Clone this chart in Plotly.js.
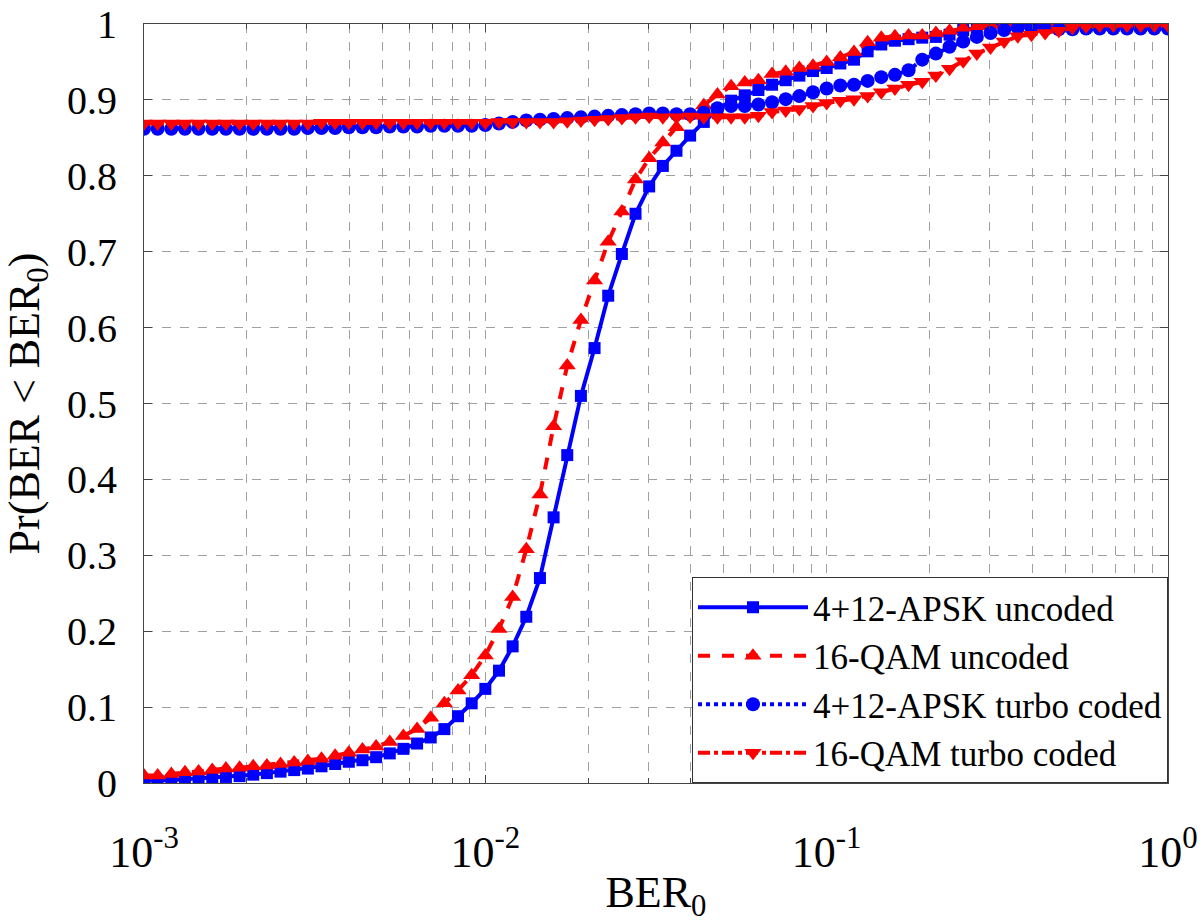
<!DOCTYPE html>
<html>
<head>
<meta charset="utf-8">
<script src="https://cdn.plot.ly/plotly-3.0.1.min.js"></script>
<style>html,body{margin:0;padding:0;background:#fff;}#chart{width:1200px;height:923px;}</style>
</head>
<body>
<div id="chart"></div>
<script>
// log10(BER0) sample grid
const logBER = [-3.00,-2.96,-2.92,-2.88,-2.84,-2.80,-2.76,-2.72,-2.68,-2.64,-2.60,-2.56,-2.52,-2.48,-2.44,-2.40,-2.36,-2.32,-2.28,-2.24,-2.20,-2.16,-2.12,-2.08,-2.04,-2.00,-1.96,-1.92,-1.88,-1.84,-1.80,-1.76,-1.72,-1.68,-1.64,-1.60,-1.56,-1.52,-1.48,-1.44,-1.40,-1.36,-1.32,-1.28,-1.24,-1.20,-1.16,-1.12,-1.08,-1.04,-1.00,-0.96,-0.92,-0.88,-0.84,-0.80,-0.76,-0.72,-0.68,-0.64,-0.60,-0.56,-0.52,-0.48,-0.44,-0.40,-0.36,-0.32,-0.28,-0.24,-0.20,-0.16,-0.12,-0.08,-0.04,0.00];

const apskUncoded = [0.003,0.003,0.004,0.005,0.006,0.007,0.008,0.009,0.011,0.013,0.015,0.017,0.019,0.022,0.025,0.028,0.030,0.034,0.039,0.045,0.052,0.060,0.071,0.088,0.105,0.124,0.148,0.180,0.219,0.270,0.350,0.432,0.510,0.573,0.642,0.697,0.750,0.786,0.813,0.833,0.853,0.871,0.887,0.899,0.906,0.913,0.920,0.926,0.932,0.938,0.942,0.948,0.953,0.964,0.973,0.978,0.980,0.982,0.983,0.986,0.992,0.995,0.997,0.998,0.998,0.998,0.998,0.998,0.998,0.998,0.998,0.998,0.998,0.998,0.998,0.998];

const qamUncoded = [0.010,0.010,0.012,0.014,0.015,0.017,0.019,0.020,0.022,0.023,0.025,0.027,0.029,0.032,0.036,0.040,0.044,0.048,0.054,0.062,0.071,0.086,0.105,0.122,0.142,0.168,0.203,0.245,0.308,0.380,0.470,0.550,0.610,0.662,0.713,0.753,0.795,0.823,0.844,0.864,0.879,0.893,0.907,0.918,0.923,0.926,0.934,0.937,0.942,0.945,0.950,0.956,0.963,0.976,0.982,0.984,0.985,0.985,0.988,0.991,0.995,0.997,0.999,0.999,0.999,0.999,0.999,0.999,0.999,0.999,0.999,0.999,0.999,0.999,0.999,0.999];

const apskTurbo = [0.862,0.862,0.862,0.862,0.862,0.862,0.862,0.862,0.862,0.862,0.862,0.862,0.863,0.863,0.863,0.864,0.864,0.864,0.865,0.865,0.865,0.866,0.866,0.866,0.866,0.867,0.869,0.871,0.873,0.874,0.875,0.876,0.877,0.878,0.879,0.880,0.881,0.882,0.882,0.881,0.881,0.883,0.889,0.892,0.892,0.894,0.897,0.901,0.905,0.910,0.915,0.919,0.920,0.925,0.930,0.933,0.939,0.953,0.961,0.970,0.977,0.983,0.988,0.992,0.995,0.995,0.994,0.993,0.993,0.994,0.994,0.994,0.994,0.994,0.994,0.994];

const qamTurbo = [0.869,0.869,0.869,0.869,0.869,0.869,0.869,0.869,0.869,0.869,0.869,0.869,0.869,0.870,0.870,0.870,0.870,0.870,0.870,0.870,0.870,0.870,0.870,0.870,0.870,0.870,0.871,0.871,0.871,0.871,0.871,0.872,0.873,0.874,0.875,0.876,0.877,0.878,0.877,0.877,0.878,0.877,0.877,0.877,0.877,0.879,0.884,0.886,0.888,0.892,0.896,0.899,0.901,0.905,0.910,0.915,0.920,0.924,0.932,0.941,0.951,0.961,0.969,0.977,0.984,0.986,0.988,0.991,0.995,0.997,0.998,0.998,0.998,0.998,0.998,0.998];

const seriesNames = ['4+12-APSK uncoded','16-QAM uncoded','4+12-APSK turbo coded','16-QAM turbo coded'];
const yTickVals = [0,0.1,0.2,0.3,0.4,0.5,0.6,0.7,0.8,0.9,1];
const yTickText = ['0','0.1','0.2','0.3','0.4','0.5','0.6','0.7','0.8','0.9','1'];
const decades = [-3,-2,-1,0];
const minorMultipliers = [2,3,4,5,6,7,8,9];

const ber = logBER.map(v => Math.pow(10, v));

const xTickVals = decades.map(d => Math.pow(10, d));
const xTickText = decades.map(d => '10<sup>' + d + '</sup>');
const xMinorVals = [];
decades.slice(0, -1).forEach(d => minorMultipliers.forEach(m => xMinorVals.push(m * Math.pow(10, d))));

const BLUE = '#0000ff', RED = '#ff0000';
const traces = [
  {x: ber, y: apskUncoded, name: seriesNames[0], mode: 'lines+markers',
   line: {color: BLUE, width: 4, dash: 'solid'},
   marker: {symbol: 'square', size: 12, color: BLUE}},
  {x: ber, y: qamUncoded, name: seriesNames[1], mode: 'lines+markers',
   line: {color: RED, width: 4, dash: 'dash'},
   marker: {symbol: 'triangle-up', size: 15, color: RED}},
  {x: ber, y: apskTurbo, name: seriesNames[2], mode: 'lines+markers',
   line: {color: BLUE, width: 4, dash: 'dot'},
   marker: {symbol: 'circle', size: 14, color: BLUE}},
  {x: ber, y: qamTurbo, name: seriesNames[3], mode: 'lines+markers',
   line: {color: RED, width: 4, dash: 'dashdot'},
   marker: {symbol: 'triangle-down', size: 15, color: RED}}
];

const FONT = "'Liberation Serif', 'Times New Roman', serif";
const GRID = {showgrid: true, gridcolor: '#a0a0a0', griddash: 'dash', gridwidth: 1};
const layout = {
  width: 1200, height: 923,
  paper_bgcolor: '#ffffff', plot_bgcolor: '#ffffff',
  margin: {l: 144, r: 32, t: 24, b: 140},
  font: {family: FONT, color: '#000', size: 36},
  showlegend: true,
  legend: {x: 1, y: 0, xanchor: 'right', yanchor: 'bottom',
    bgcolor: '#ffffff', bordercolor: '#333', borderwidth: 1,
    font: {family: FONT, size: 35, color: '#000'},
    tracegroupgap: 0, itemwidth: 110},
  xaxis: Object.assign({type: 'log', range: [-3, 0],
    tickmode: 'array', tickvals: xTickVals, ticktext: xTickText,
    ticks: 'inside', ticklen: 8, tickcolor: '#444',
    minor: Object.assign({tickmode: 'array', tickvals: xMinorVals, ticks: 'inside', ticklen: 5, tickcolor: '#444'}, GRID),
    showline: true, linecolor: '#444', linewidth: 1, mirror: 'ticks',
    zeroline: false, ticklabelstandoff: 30, ticklabeloverflow: 'allow',
    tickfont: {family: FONT, size: 44},
    title: {text: 'BER<sub>0</sub>', font: {family: FONT, size: 44}, standoff: 2}}, GRID),
  yaxis: Object.assign({range: [0, 1],
    tickmode: 'array', tickvals: yTickVals, ticktext: yTickText,
    ticks: 'inside', ticklen: 8, tickcolor: '#444',
    showline: true, linecolor: '#444', linewidth: 1, mirror: 'ticks',
    zeroline: false, ticklabelstandoff: 18, ticklabeloverflow: 'allow',
    tickfont: {family: FONT, size: 40},
    title: {text: 'Pr(BER &lt; BER<sub>0</sub>)', font: {family: FONT, size: 44}, standoff: 14}}, GRID)
};

Plotly.newPlot('chart', traces, layout, {displayModeBar: false, staticPlot: true});
</script>
</body>
</html>
